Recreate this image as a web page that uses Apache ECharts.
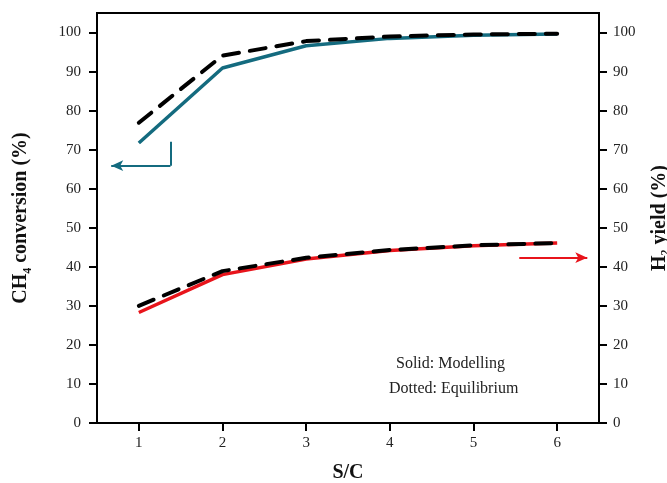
<!DOCTYPE html>
<html>
<head>
<meta charset="utf-8">
<title>CH4 conversion and H2 yield vs S/C</title>
<script src="https://cdn.jsdelivr.net/npm/echarts@6/dist/echarts.min.js"></script>
<style>
  html, body { margin: 0; padding: 0; background: #fff; }
  #chart { width: 667px; height: 483px; }
</style>
</head>
<body>
<div id="chart"></div>
<script>
// Steam-to-carbon ratio on the x axis
const scValues = [1, 2, 3, 4, 5, 6];
const xTickValues = [1, 2, 3, 4, 5, 6];
const yTickValues = [0, 10, 20, 30, 40, 50, 60, 70, 80, 90, 100];

// CH4 conversion (%), left axis
const ch4Modelling = [71.7, 90.9, 96.6, 98.5, 99.3, 99.6];
const ch4Equilibrium = [76.9, 94.1, 97.8, 99.0, 99.5, 99.7];

// H2 yield (%), right axis
const h2Modelling = [28.3, 38.0, 42.0, 44.2, 45.4, 46.1];
const h2Equilibrium = [30.0, 38.9, 42.3, 44.3, 45.5, 46.1];

const TEAL = '#146b7f';
const RED = '#e8141b';
const FONT = "'Liberation Serif', 'Times New Roman', serif";

const pairs = (ys) => scValues.map((x, i) => [x, ys[i]]);

const chart = echarts.init(document.getElementById('chart'), null, { renderer: 'canvas' });

const tickLabel = { fontFamily: FONT, fontSize: 15, color: '#222' };
const nameStyle = {
  fontFamily: FONT, fontSize: 20, fontWeight: 'bold', color: '#111', lineHeight: 26,
  rich: {
    sub: { fontFamily: FONT, fontSize: 12, fontWeight: 'bold', color: '#111', lineHeight: 13, verticalAlign: 'bottom' }
  }
};

const yAxisBase = {
  type: 'value', min: 0, max: 105,
  nameLocation: 'middle',
  nameTextStyle: nameStyle,
  axisLine: { show: true, lineStyle: { color: '#000', width: 2 } },
  axisTick: { show: true, length: 8, lineStyle: { color: '#000', width: 2 }, customValues: yTickValues },
  splitLine: { show: false }
};

chart.setOption({
  animation: false,
  backgroundColor: '#fff',
  textStyle: { fontFamily: FONT },
  grid: {
    left: 97, right: 68, top: 13, bottom: 60,
    containLabel: false,
    outerBoundsMode: 'none',
    show: true, borderColor: '#000', borderWidth: 2, backgroundColor: 'transparent'
  },
  xAxis: {
    type: 'value', min: 0.5, max: 6.5,
    name: 'S/C',
    nameLocation: 'middle',
    nameGap: 40,
    nameTextStyle: { fontFamily: FONT, fontSize: 20, fontWeight: 'bold', color: '#111' },
    axisLine: { show: true, onZero: false, lineStyle: { color: '#000', width: 2 } },
    axisTick: { show: true, length: 8, lineStyle: { color: '#000', width: 2 }, customValues: xTickValues },
    axisLabel: Object.assign({ margin: 13, customValues: xTickValues }, tickLabel),
    splitLine: { show: false }
  },
  yAxis: [
    Object.assign({}, yAxisBase, {
      position: 'left',
      name: 'CH{sub|4} conversion (%)',
      nameGap: 63,
      axisLabel: Object.assign({ margin: 16, customValues: yTickValues }, tickLabel)
    }),
    Object.assign({}, yAxisBase, {
      position: 'right',
      name: 'H{sub|2} yield (%)',
      nameGap: 40,
      axisLabel: Object.assign({ margin: 14, customValues: yTickValues }, tickLabel)
    })
  ],
  graphic: [
    { type: 'text', left: 396, top: 356, style: { text: 'Solid: Modelling', fontFamily: FONT, fontSize: 16, fill: '#222' } },
    { type: 'text', left: 389, top: 381, style: { text: 'Dotted: Equilibrium', fontFamily: FONT, fontSize: 16, fill: '#222' } }
  ],
  series: [
    {
      name: 'CH4 modelling', type: 'line', yAxisIndex: 0, symbol: 'none', z: 2,
      data: pairs(ch4Modelling),
      lineStyle: { color: TEAL, width: 3.5 },
      markLine: {
        silent: true, animation: false,
        label: { show: false },
        lineStyle: { color: TEAL, width: 2, type: 'solid' },
        data: [
          [{ coord: [1.378, 72.0], symbol: 'none' }, { coord: [1.378, 65.9], symbol: 'none' }],
          [{ coord: [1.378, 65.9], symbol: 'none' }, { coord: [0.67, 65.9], symbol: 'arrow', symbolSize: [8, 12] }]
        ]
      }
    },
    {
      name: 'H2 modelling', type: 'line', yAxisIndex: 1, symbol: 'none', z: 2,
      data: pairs(h2Modelling),
      lineStyle: { color: RED, width: 3.5 },
      markLine: {
        silent: true, animation: false,
        label: { show: false },
        lineStyle: { color: RED, width: 2, type: 'solid' },
        data: [
          [{ coord: [5.547, 42.35], symbol: 'none' }, { coord: [6.36, 42.35], symbol: 'arrow', symbolSize: [8, 12] }]
        ]
      }
    },
    {
      name: 'CH4 equilibrium', type: 'line', yAxisIndex: 0, symbol: 'none', z: 3,
      data: pairs(ch4Equilibrium),
      lineStyle: { color: '#000', width: 4, type: [16, 11], cap: 'round' }
    },
    {
      name: 'H2 equilibrium', type: 'line', yAxisIndex: 1, symbol: 'none', z: 3,
      data: pairs(h2Equilibrium),
      lineStyle: { color: '#000', width: 4, type: [16, 11], cap: 'round' }
    }
  ]
});
</script>
</body>
</html>
